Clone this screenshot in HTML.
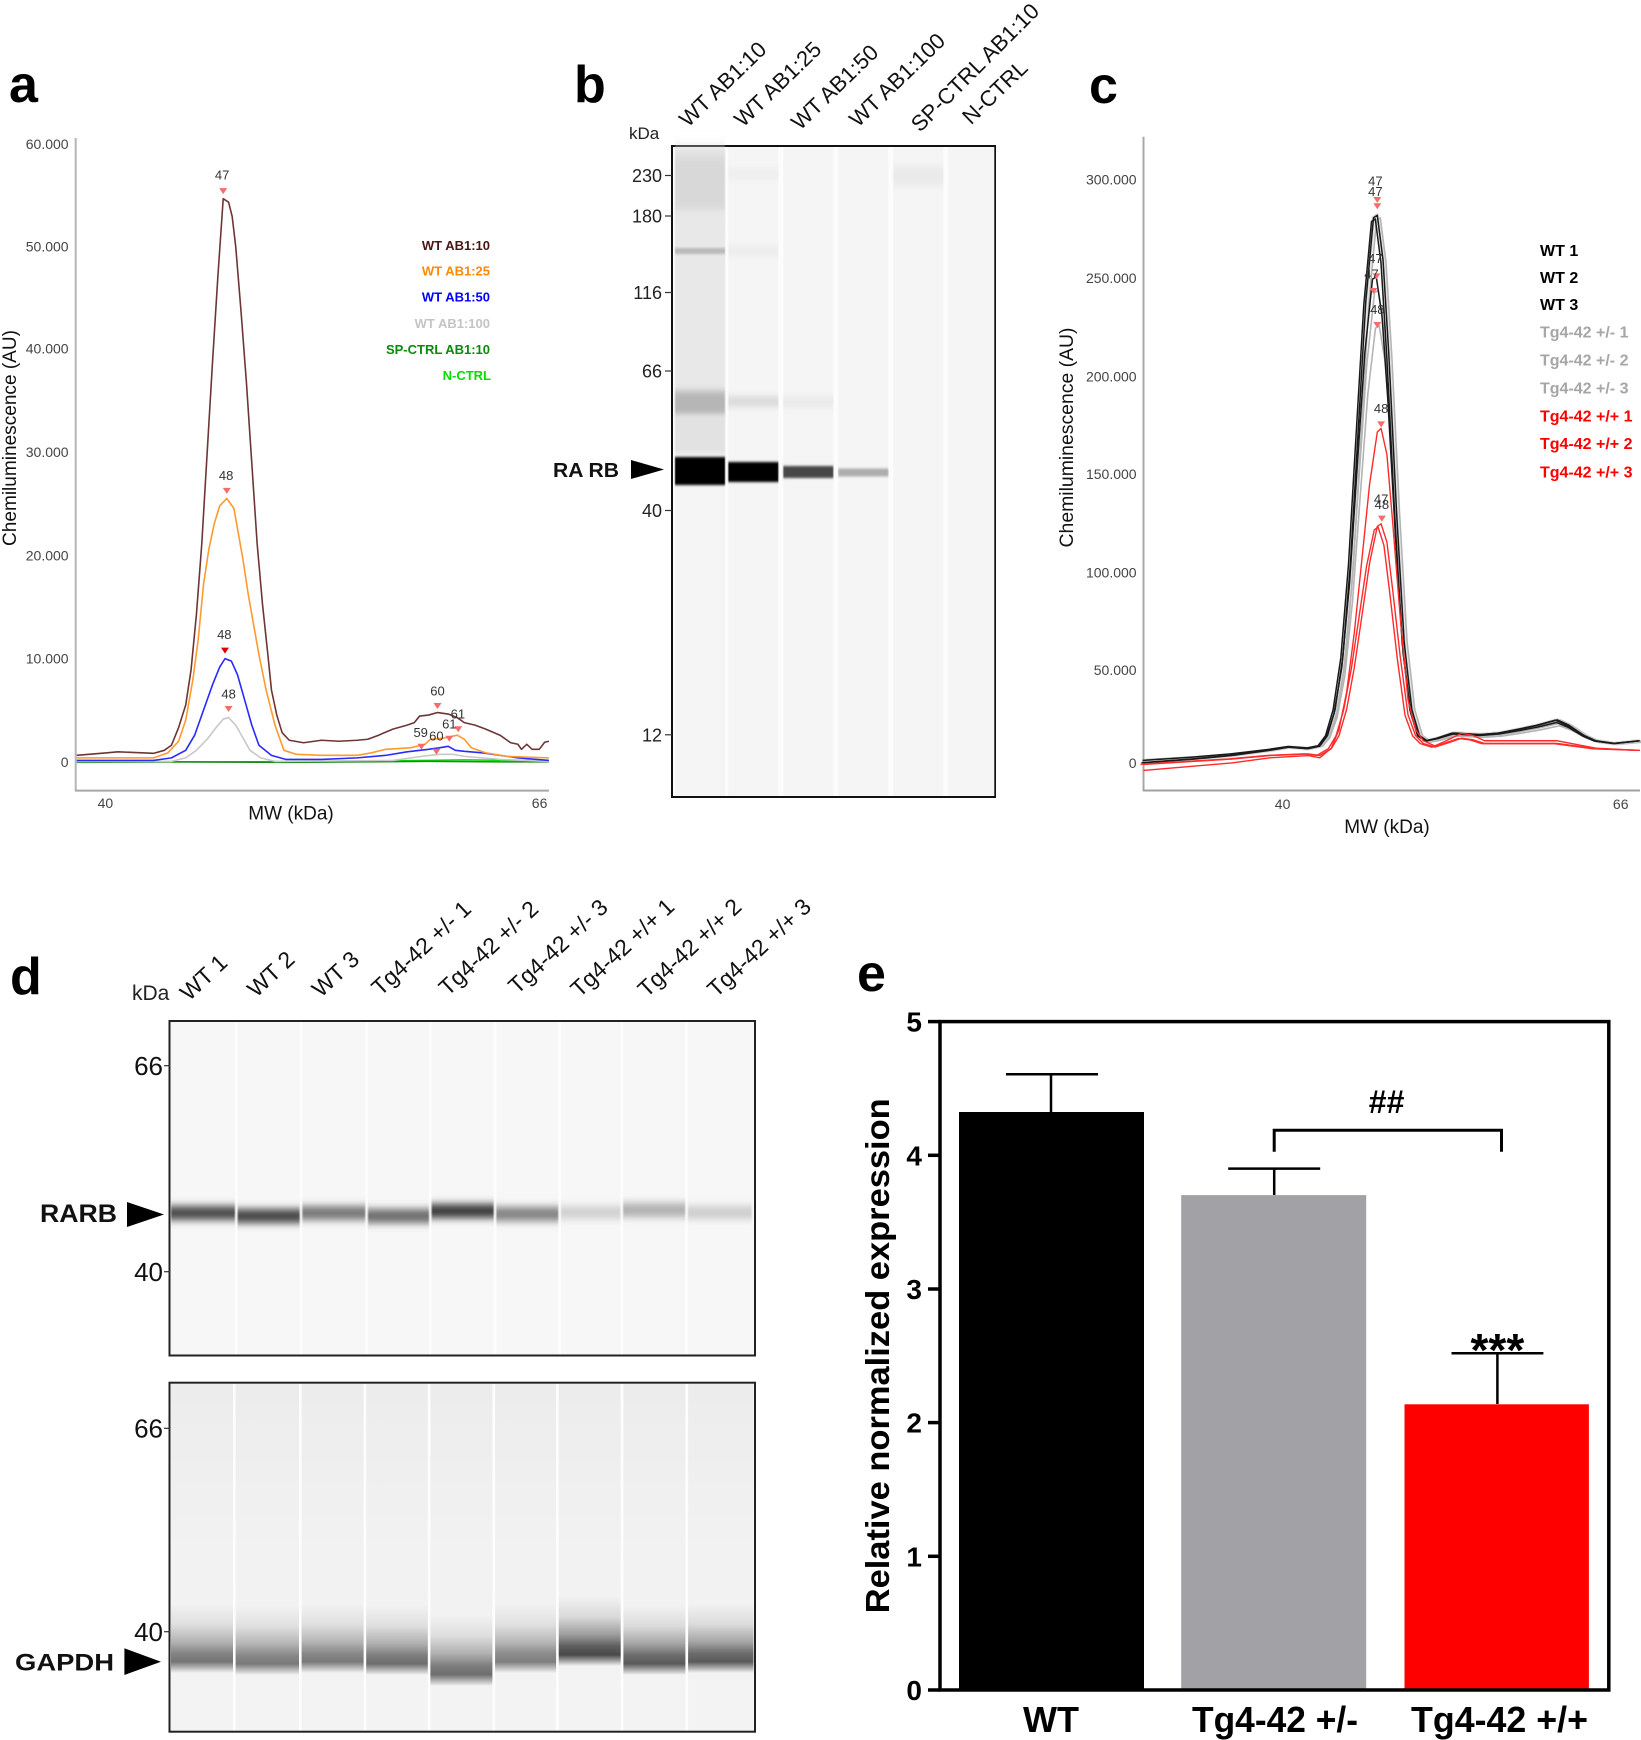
<!DOCTYPE html>
<html><head><meta charset="utf-8"><style>html,body{margin:0;padding:0;background:#fff}svg{display:block}</style></head><body>
<svg width="1641" height="1740" viewBox="0 0 1641 1740" xmlns="http://www.w3.org/2000/svg" font-family="'Liberation Sans', Arial, sans-serif">
<defs>
<filter id="b1" x="-10%" y="-200%" width="120%" height="500%"><feGaussianBlur stdDeviation="0.6 1.2"/></filter>
<filter id="b3" x="-10%" y="-200%" width="120%" height="500%"><feGaussianBlur stdDeviation="0.6 3"/></filter>
<filter id="b4" x="-10%" y="-200%" width="120%" height="500%"><feGaussianBlur stdDeviation="0.8 4"/></filter>
<filter id="b8" x="-10%" y="-100%" width="120%" height="300%"><feGaussianBlur stdDeviation="0.8 8"/></filter>
<linearGradient id="gB" x1="0" y1="0" x2="0" y2="1">
<stop offset="0" stop-color="#000" stop-opacity="0"/>
<stop offset="0.3" stop-color="#000" stop-opacity="0.15"/>
<stop offset="0.55" stop-color="#000" stop-opacity="0.5"/>
<stop offset="0.72" stop-color="#000" stop-opacity="0.88"/>
<stop offset="0.84" stop-color="#000" stop-opacity="1"/>
<stop offset="0.93" stop-color="#000" stop-opacity="0.45"/>
<stop offset="1" stop-color="#000" stop-opacity="0"/>
</linearGradient>
<linearGradient id="gL" x1="0" y1="0" x2="0" y2="1">
<stop offset="0" stop-color="#ececec"/>
<stop offset="0.5" stop-color="#f2f2f2"/>
<stop offset="1" stop-color="#f3f3f3"/>
</linearGradient>
</defs>

<!-- panel letters -->
<g font-size="52" font-weight="bold" fill="#000">
<text x="9" y="102">a</text>
<text x="574" y="102">b</text>
<text x="1089" y="103">c</text>
<text x="10" y="994">d</text>
<text x="857" y="991">e</text>
</g>

<!-- ============ PANEL A ============ -->
<line x1="75.7" y1="138" x2="75.7" y2="791" stroke="#b5b5b5" stroke-width="2"/>
<line x1="75" y1="790.6" x2="549" y2="790.6" stroke="#a8a8a8" stroke-width="2"/>
<g font-size="14" fill="#444" text-anchor="end">
<text x="68.6" y="149.2">60.000</text>
<text x="68.6" y="251.5">50.000</text>
<text x="68.6" y="353.7">40.000</text>
<text x="68.6" y="457">30.000</text>
<text x="68.6" y="560.3">20.000</text>
<text x="68.6" y="663.6">10.000</text>
<text x="68.6" y="766.8">0</text>
</g>
<g font-size="14" fill="#444" text-anchor="middle">
<text x="105.4" y="808">40</text>
<text x="539.6" y="808">66</text>
</g>
<text x="291" y="819.5" font-size="19" text-anchor="middle" fill="#111">MW (kDa)</text>
<text transform="translate(16,438) rotate(-90)" font-size="19" text-anchor="middle" fill="#111" textLength="216" lengthAdjust="spacingAndGlyphs">Chemiluminescence (AU)</text>

<g transform="translate(0,50) scale(0.357143,0.503827)" fill="none" stroke-linejoin="round">
<path vector-effect="non-scaling-stroke" stroke="#00dd00" stroke-width="1.5" d="M215,1413 L600,1413 L900,1412 L1200,1410 L1300,1409 L1537,1411"/>
<path vector-effect="non-scaling-stroke" stroke="#1a8a1a" stroke-width="1.5" d="M215,1414 L500,1413 L800,1414 L1000,1413 L1200,1412 L1400,1413 L1537,1413"/>
<path vector-effect="non-scaling-stroke" stroke="#c8c8c8" stroke-width="1.6" d="M215,1412 L480,1412 L520,1405 L550,1390 L580,1368 L605,1345 L625,1328 L640,1325 L660,1340 L680,1365 L700,1390 L730,1405 L770,1412 L1100,1410 L1180,1402 L1230,1398 L1270,1398 L1300,1402 L1400,1408 L1537,1412"/>
<path vector-effect="non-scaling-stroke" stroke="#2a2aff" stroke-width="1.6" d="M215,1410 L430,1410 L480,1405 L520,1390 L545,1360 L570,1310 L595,1260 L615,1225 L630,1208 L648,1213 L665,1240 L685,1290 L705,1340 L725,1380 L760,1400 L800,1408 L900,1408 L1000,1405 L1080,1400 L1140,1393 L1200,1388 L1230,1385 L1255,1382 L1275,1390 L1300,1392 L1350,1395 L1400,1400 L1450,1405 L1537,1410"/>
<path vector-effect="non-scaling-stroke" stroke="#ff9a2e" stroke-width="1.6" d="M215,1405 L430,1405 L470,1395 L500,1372 L520,1330 L540,1250 L555,1170 L570,1060 L585,990 L600,940 L615,905 L635,890 L655,910 L665,950 L680,1010 L695,1080 L710,1140 L725,1200 L745,1270 L770,1340 L795,1390 L830,1398 L900,1400 L1000,1400 L1040,1395 L1080,1388 L1150,1385 L1190,1378 L1205,1368 L1240,1366 L1280,1360 L1300,1368 L1320,1385 L1360,1395 L1420,1402 L1537,1405"/>
<path vector-effect="non-scaling-stroke" stroke="#6e3535" stroke-width="1.6" d="M215,1400 L300,1395 L330,1393 L430,1396 L460,1390 L480,1380 L500,1345 L520,1300 L535,1230 L550,1120 L565,980 L580,800 L595,620 L610,450 L625,295 L640,302 L650,330 L660,390 L675,520 L690,660 L705,820 L720,980 L735,1100 L750,1200 L760,1270 L775,1320 L790,1355 L810,1370 L850,1375 L900,1370 L950,1372 L1000,1370 L1030,1368 L1060,1360 L1100,1348 L1140,1340 L1160,1335 L1175,1322 L1200,1320 L1225,1315 L1255,1318 L1280,1325 L1300,1335 L1330,1340 L1360,1348 L1400,1360 L1430,1375 L1450,1378 L1460,1388 L1475,1378 L1490,1388 L1510,1388 L1525,1374 L1537,1372"/>
</g>
<g fill="#f46d6d">
<polygon points="219.2,188.1 227.2,188.1 223.2,194.1"/>
<polygon points="222.8,487.9 230.8,487.9 226.8,493.9"/>
<polygon points="221,647.6 229,647.6 225,653.6" fill="#e00000"/>
<polygon points="224.6,706 232.6,706 228.6,712"/>
<polygon points="433.5,703 441.5,703 437.5,709"/>
<polygon points="454.2,726.2 462.2,726.2 458.2,732.2"/>
<polygon points="445.3,735.7 453.3,735.7 449.3,741.7"/>
<polygon points="417.4,743.8 425.4,743.8 421.4,749.8"/>
<polygon points="432.4,748.8 440.4,748.8 436.4,754.8"/>
</g>
<g font-size="13" fill="#333" text-anchor="middle">
<text x="222.1" y="179.5">47</text>
<text x="226.1" y="480.2">48</text>
<text x="224.3" y="638.9">48</text>
<text x="228.6" y="698.4">48</text>
<text x="437.5" y="695.4">60</text>
<text x="457.9" y="718.5">61</text>
<text x="449.3" y="728.6">61</text>
<text x="420.7" y="737.2">59</text>
<text x="436.4" y="740.7">60</text>
</g>
<g font-size="13" font-weight="bold" text-anchor="end">
<text x="490" y="250" fill="#4a1515">WT AB1:10</text>
<text x="490" y="275.5" fill="#ff8a00">WT AB1:25</text>
<text x="490" y="301.7" fill="#0000ff">WT AB1:50</text>
<text x="490" y="327.8" fill="#c4c4c4">WT AB1:100</text>
<text x="490" y="354" fill="#0a8a0a">SP-CTRL AB1:10</text>
<text x="491" y="380" fill="#00e000">N-CTRL</text>
</g>

<!-- ============ PANEL B ============ -->
<rect x="672" y="146" width="323" height="651" fill="#fcfcfc" stroke="#111" stroke-width="2"/>
<g fill="#f5f5f5">
<rect x="675" y="147" width="50" height="649"/>
<rect x="728.3" y="147" width="50" height="649"/>
<rect x="783.3" y="147" width="50" height="649"/>
<rect x="838.3" y="147" width="50" height="649"/>
<rect x="893.3" y="147" width="50" height="649"/>
<rect x="948.3" y="147" width="46" height="649"/>
</g>
<rect x="675" y="150" width="50" height="66" fill="#d8d8d8" filter="url(#b8)"/>
<rect x="675" y="212" width="50" height="175" fill="#e8e8e8" filter="url(#b3)"/>
<rect x="675" y="248" width="50" height="6" fill="#bababa" filter="url(#b1)"/>
<rect x="675" y="390" width="50" height="26" fill="#b6b6b6" filter="url(#b4)"/>
<rect x="675" y="416" width="50" height="38" fill="#e2e2e2" filter="url(#b3)"/>
<rect x="675" y="457" width="50" height="28" fill="#000" filter="url(#b1)"/>
<rect x="728.3" y="168" width="50" height="12" fill="#efefef" filter="url(#b3)"/>
<rect x="728.3" y="245" width="50" height="12" fill="#eeeeee" filter="url(#b3)"/>
<rect x="728.3" y="396" width="50" height="11" fill="#dcdcdc" filter="url(#b3)"/>
<rect x="728.3" y="462" width="50" height="20" fill="#050505" filter="url(#b1)"/>
<rect x="783.3" y="396" width="50" height="12" fill="#ebebeb" filter="url(#b3)"/>
<rect x="783.3" y="466" width="50" height="12" fill="#464646" filter="url(#b1)"/>
<rect x="838.3" y="468.5" width="50" height="8" fill="#adadad" filter="url(#b1)"/>
<rect x="893.3" y="166" width="50" height="20" fill="#eaeaea" filter="url(#b4)"/>
<g stroke="#333" stroke-width="1.2">
<line x1="665" y1="175.5" x2="672" y2="175.5"/>
<line x1="665" y1="216" x2="672" y2="216"/>
<line x1="665" y1="292.5" x2="672" y2="292.5"/>
<line x1="665" y1="371" x2="672" y2="371"/>
<line x1="665" y1="510.5" x2="672" y2="510.5"/>
<line x1="665" y1="734.8" x2="672" y2="734.8"/>
</g>
<g font-size="18" fill="#222" text-anchor="end">
<text x="662" y="182">230</text>
<text x="662" y="222.5">180</text>
<text x="662" y="299">116</text>
<text x="662" y="377.5">66</text>
<text x="662" y="517">40</text>
<text x="662" y="741.3">12</text>
</g>
<text x="629" y="139" font-size="17" fill="#222">kDa</text>
<text x="553" y="477" font-size="20" font-weight="bold" fill="#111" textLength="66" lengthAdjust="spacingAndGlyphs">RA RB</text>
<polygon points="631,460 664,469.5 631,479" fill="#000"/>
<g font-size="22" fill="#111">
<text transform="translate(688,128) rotate(-44)">WT AB1:10</text>
<text transform="translate(743,128) rotate(-44)">WT AB1:25</text>
<text transform="translate(800,131) rotate(-44)">WT AB1:50</text>
<text transform="translate(858,128) rotate(-44)">WT AB1:100</text>
<text transform="translate(920,133) rotate(-45)">SP-CTRL AB1:10</text>
<text transform="translate(971,125.5) rotate(-44)">N-CTRL</text>
</g>

<!-- ============ PANEL C ============ -->
<line x1="1143.5" y1="136.8" x2="1143.5" y2="791" stroke="#a8a8a8" stroke-width="2"/>
<line x1="1143" y1="790.5" x2="1640" y2="790.5" stroke="#a0a0a0" stroke-width="2"/>
<g font-size="14" fill="#444" text-anchor="end">
<text x="1136.6" y="184.6">300.000</text>
<text x="1136.6" y="283">250.000</text>
<text x="1136.6" y="381.3">200.000</text>
<text x="1136.6" y="479">150.000</text>
<text x="1136.6" y="577.4">100.000</text>
<text x="1136.6" y="675.2">50.000</text>
<text x="1136.6" y="767.8">0</text>
</g>
<g font-size="14" fill="#444" text-anchor="middle">
<text x="1282.6" y="809">40</text>
<text x="1620.7" y="809">66</text>
</g>
<text x="1387" y="833" font-size="19" text-anchor="middle" fill="#111">MW (kDa)</text>
<text transform="translate(1073,437.5) rotate(-90)" font-size="19" text-anchor="middle" fill="#111" textLength="220" lengthAdjust="spacingAndGlyphs">Chemiluminescence (AU)</text>

<defs>
<path id="cB" vector-effect="non-scaling-stroke" d="M1143.5,762.8 L1193.3,759.1 L1231.6,755.5 L1270,750.3 L1289.1,747.1 L1308.3,748.7 L1319.8,746.1 L1327.5,735.6 L1335.1,709.5 L1342.8,657.2 L1350.5,563 L1358.1,432.3 L1365.8,301.5 L1373.5,217.8 L1377.3,215.2 L1383,259.7 L1388.8,353.8 L1396.5,510.7 L1404.1,641.5 L1411.8,709.5 L1419.5,735.6 L1427.1,740.8 L1438.6,738.2 L1454,733 L1480.8,734.6 L1500,733 L1519.1,729.3 L1538.3,725.2 L1557.4,719.9 L1568.9,725.2 L1584.3,735.6 L1595.8,740.8 L1614.9,743.5 L1639.8,740.8"/>
<path id="cR" vector-effect="non-scaling-stroke" d="M1143.5,764.4 L1231.6,759.1 L1270,755.5 L1308.3,753.9 L1319.8,755.5 L1331.3,748.7 L1339,735.6 L1346.6,709.5 L1354.3,667.6 L1362,615.3 L1369.6,563 L1377.3,526.4 L1381.1,523.8 L1386.9,542.1 L1392.6,589.2 L1400.3,657.2 L1408,714.7 L1415.6,735.6 L1423.3,743.5 L1434.8,747.1 L1446.3,743.5 L1461.6,738.2 L1473.1,739.8 L1484.6,743.5 L1519.1,743.5 L1557.4,743.5 L1595.8,748.7 L1639.8,750.3"/>
</defs>
<g fill="none" stroke-linejoin="round">
<g stroke="#b4b4b4" stroke-width="1.6">
<use href="#cB" transform="translate(3,745) scale(1,0.995) translate(0,-745)"/>
<use href="#cB" transform="translate(1,745) scale(1,0.858) translate(0,-745)"/>
<use href="#cB" transform="translate(2,748) scale(1,0.792) translate(0,-748)"/>
</g>
<g stroke="#d0d0d0" stroke-width="4" opacity="0.6">
<use href="#cB"/>
</g>
<g stroke="#1a1a1a" stroke-width="1.5">
<use href="#cB"/>
<use href="#cB" transform="translate(-2,745) scale(1,0.993) translate(0,-745)"/>
<use href="#cB" transform="translate(-1,742) scale(1,0.883) translate(0,-742)"/>
</g>
<g stroke="#ff2a2a" stroke-width="1.4">
<use href="#cR"/>
<use href="#cR" transform="translate(-3,752) scale(1,0.985) translate(0,-752)"/>
<use href="#cR" transform="translate(0,750) scale(1,1.422) translate(0,-750)"/>
</g>
</g>
<g fill="#f46d6d">
<polygon points="1373.3,197 1381.3,197 1377.3,203"/>
<polygon points="1373.3,203.3 1381.3,203.3 1377.3,209.3"/>
<polygon points="1372.5,273.4 1380.5,273.4 1376.5,279.4"/>
<polygon points="1369.5,288 1377.5,288 1373.5,294"/>
<polygon points="1373.3,322 1381.3,322 1377.3,328"/>
<polygon points="1377.1,421.4 1385.1,421.4 1381.1,427.4"/>
<polygon points="1377.9,515.6 1385.9,515.6 1381.9,521.6"/>
</g>
<g font-size="13" fill="#333" text-anchor="middle">
<text x="1375.4" y="185.7">47</text>
<text x="1375.4" y="196.2">47</text>
<text x="1375.4" y="263.1">47</text>
<text x="1371.5" y="278.3">47</text>
<text x="1377.3" y="313.9">48</text>
<text x="1381.1" y="413.2">48</text>
<text x="1381.1" y="503.7">47</text>
<text x="1381.9" y="508.9">48</text>
</g>
<g font-size="16" font-weight="bold">
<text x="1540" y="256" fill="#000">WT 1</text>
<text x="1540" y="283" fill="#000">WT 2</text>
<text x="1540" y="310" fill="#000">WT 3</text>
<text x="1540" y="337.3" fill="#a6a6a6">Tg4-42 +/- 1</text>
<text x="1540" y="365.6" fill="#a6a6a6">Tg4-42 +/- 2</text>
<text x="1540" y="393.3" fill="#a6a6a6">Tg4-42 +/- 3</text>
<text x="1540" y="421.5" fill="#ff0000">Tg4-42 +/+ 1</text>
<text x="1540" y="449.2" fill="#ff0000">Tg4-42 +/+ 2</text>
<text x="1540" y="477.5" fill="#ff0000">Tg4-42 +/+ 3</text>
</g>

<!-- ============ PANEL D ============ -->
<text x="132" y="1000" font-size="21" fill="#222">kDa</text>
<g font-size="23" fill="#111">
<text transform="translate(189,1001.7) rotate(-43)">WT 1</text>
<text transform="translate(256.2,998.3) rotate(-43)">WT 2</text>
<text transform="translate(320.9,998.3) rotate(-43)">WT 3</text>
<text transform="translate(380.5,996.7) rotate(-43)">Tg4-42 +/- 1</text>
<text transform="translate(447.7,996.7) rotate(-43)">Tg4-42 +/- 2</text>
<text transform="translate(517.3,995) rotate(-43)">Tg4-42 +/- 3</text>
<text transform="translate(579.5,998.3) rotate(-43)">Tg4-42 +/+ 1</text>
<text transform="translate(646.7,998.3) rotate(-43)">Tg4-42 +/+ 2</text>
<text transform="translate(716.3,998.3) rotate(-43)">Tg4-42 +/+ 3</text>
</g>
<!-- top gel -->
<rect x="169.5" y="1021" width="585.5" height="334.5" fill="#fdfdfd" stroke="#222" stroke-width="2"/>
<g fill="#f7f7f7">
<rect x="171" y="1022" width="64" height="332.5"/>
<rect x="237.6" y="1022" width="62.1" height="332.5"/>
<rect x="302.3" y="1022" width="63" height="332.5"/>
<rect x="367.9" y="1022" width="61.1" height="332.5"/>
<rect x="431.6" y="1022" width="62.1" height="332.5"/>
<rect x="496.3" y="1022" width="62" height="332.5"/>
<rect x="560.9" y="1022" width="59.6" height="332.5"/>
<rect x="623.1" y="1022" width="62.1" height="332.5"/>
<rect x="687.8" y="1022" width="66" height="332.5"/>
</g>
<g filter="url(#b4)">
<rect x="171" y="1206" width="64" height="14" fill="#4a4a4a"/>
<rect x="237.6" y="1209" width="62.1" height="14" fill="#454545"/>
<rect x="302.3" y="1206" width="63" height="14" fill="#777"/>
<rect x="367.9" y="1209" width="61.1" height="14" fill="#6c6c6c"/>
<rect x="431.6" y="1204" width="62.1" height="14" fill="#3a3a3a"/>
<rect x="496.3" y="1207" width="62" height="14" fill="#828282"/>
<rect x="560.9" y="1206" width="59.6" height="13" fill="#d0d0d0"/>
<rect x="623.1" y="1203" width="62.1" height="14" fill="#b0b0b0"/>
<rect x="687.8" y="1206" width="64" height="13" fill="#cdcdcd"/>
</g>
<g stroke="#333" stroke-width="1.2">
<line x1="164" y1="1065.7" x2="170" y2="1065.7"/>
<line x1="164" y1="1271.7" x2="170" y2="1271.7"/>
</g>
<g font-size="26" fill="#111" text-anchor="end">
<text x="163" y="1075">66</text>
<text x="163" y="1281">40</text>
</g>
<text x="40" y="1222" font-size="25" font-weight="bold" fill="#111" textLength="77" lengthAdjust="spacingAndGlyphs">RARB</text>
<polygon points="127,1202 164,1214.5 127,1227" fill="#000"/>
<!-- bottom gel -->
<rect x="169.5" y="1382.7" width="585.5" height="349" fill="#fdfdfd" stroke="#222" stroke-width="2"/>
<g fill="url(#gL)">
<rect x="171" y="1384" width="62" height="346.5"/>
<rect x="235.6" y="1384" width="63.4" height="346.5"/>
<rect x="301.6" y="1384" width="62" height="346.5"/>
<rect x="366.2" y="1384" width="61.6" height="346.5"/>
<rect x="430.4" y="1384" width="62" height="346.5"/>
<rect x="495.1" y="1384" width="61" height="346.5"/>
<rect x="558.7" y="1384" width="62" height="346.5"/>
<rect x="623.4" y="1384" width="62" height="346.5"/>
<rect x="688.1" y="1384" width="65.4" height="346.5"/>
</g>
<g fill="url(#gB)">
<rect x="171" y="1603" width="62" height="70" opacity="0.52"/>
<rect x="235.6" y="1605" width="63.4" height="70" opacity="0.5"/>
<rect x="301.6" y="1603" width="62" height="70" opacity="0.5"/>
<rect x="366.2" y="1605" width="61.6" height="70" opacity="0.55"/>
<rect x="430.4" y="1614" width="62" height="72" opacity="0.55"/>
<rect x="495.1" y="1603" width="61" height="70" opacity="0.48"/>
<rect x="558.7" y="1596" width="62" height="70" opacity="0.7"/>
<rect x="623.4" y="1605" width="62" height="70" opacity="0.63"/>
<rect x="688.1" y="1603" width="65.4" height="70" opacity="0.63"/>
</g>
<g stroke="#333" stroke-width="1.2">
<line x1="164" y1="1428.3" x2="170" y2="1428.3"/>
<line x1="164" y1="1631.7" x2="170" y2="1631.7"/>
</g>
<g font-size="26" fill="#111" text-anchor="end">
<text x="163" y="1437.5">66</text>
<text x="163" y="1641">40</text>
</g>
<text x="15" y="1670.5" font-size="24" font-weight="bold" fill="#111" textLength="99" lengthAdjust="spacingAndGlyphs">GAPDH</text>
<polygon points="124.4,1648.3 161,1661.7 124.4,1675" fill="#000"/>

<!-- ============ PANEL E ============ -->
<rect x="959" y="1112" width="185" height="578" fill="#000"/>
<rect x="1181.2" y="1195.1" width="185" height="494.9" fill="#a2a2a6"/>
<rect x="1404.5" y="1404.3" width="184.4" height="285.7" fill="#ff0000"/>
<g stroke="#000" stroke-width="2.5" fill="none">
<line x1="1051" y1="1112" x2="1051" y2="1074.2"/>
<line x1="1006" y1="1074.2" x2="1098" y2="1074.2"/>
<line x1="1274.2" y1="1195" x2="1274.2" y2="1168.6"/>
<line x1="1228.2" y1="1168.6" x2="1320.2" y2="1168.6"/>
<line x1="1497.4" y1="1404" x2="1497.4" y2="1353.3"/>
<line x1="1451.5" y1="1353.3" x2="1543.4" y2="1353.3"/>
<path d="M1274.2,1151.7 V1130.3 H1501.5 V1151.7" stroke-width="3"/>
</g>
<rect x="940" y="1021.6" width="668.8" height="668.4" fill="none" stroke="#000" stroke-width="3.5"/>
<g stroke="#000" stroke-width="3.5">
<line x1="928" y1="1021.6" x2="940" y2="1021.6"/>
<line x1="928" y1="1155.3" x2="940" y2="1155.3"/>
<line x1="928" y1="1289" x2="940" y2="1289"/>
<line x1="928" y1="1422.6" x2="940" y2="1422.6"/>
<line x1="928" y1="1556.3" x2="940" y2="1556.3"/>
<line x1="928" y1="1690" x2="940" y2="1690"/>
</g>
<g font-size="28" font-weight="bold" fill="#000" text-anchor="end">
<text x="922" y="1031.6">5</text>
<text x="922" y="1165.3">4</text>
<text x="922" y="1299">3</text>
<text x="922" y="1432.6">2</text>
<text x="922" y="1566.3">1</text>
<text x="922" y="1700">0</text>
</g>
<text x="1386.6" y="1113" font-size="32" font-weight="bold" text-anchor="middle" fill="#000">##</text>
<text x="1497.4" y="1366" font-size="46" font-weight="bold" text-anchor="middle" fill="#000">***</text>
<text transform="translate(889,1355.8) rotate(-90)" font-size="33" font-weight="bold" text-anchor="middle" fill="#000" textLength="515" lengthAdjust="spacingAndGlyphs">Relative normalized expression</text>
<g font-size="36" font-weight="bold" fill="#000" text-anchor="middle">
<text x="1051" y="1732">WT</text>
<text x="1275" y="1732" textLength="166" lengthAdjust="spacingAndGlyphs">Tg4-42 +/-</text>
<text x="1499.5" y="1732" textLength="177" lengthAdjust="spacingAndGlyphs">Tg4-42 +/+</text>
</g>
</svg>
</body></html>
